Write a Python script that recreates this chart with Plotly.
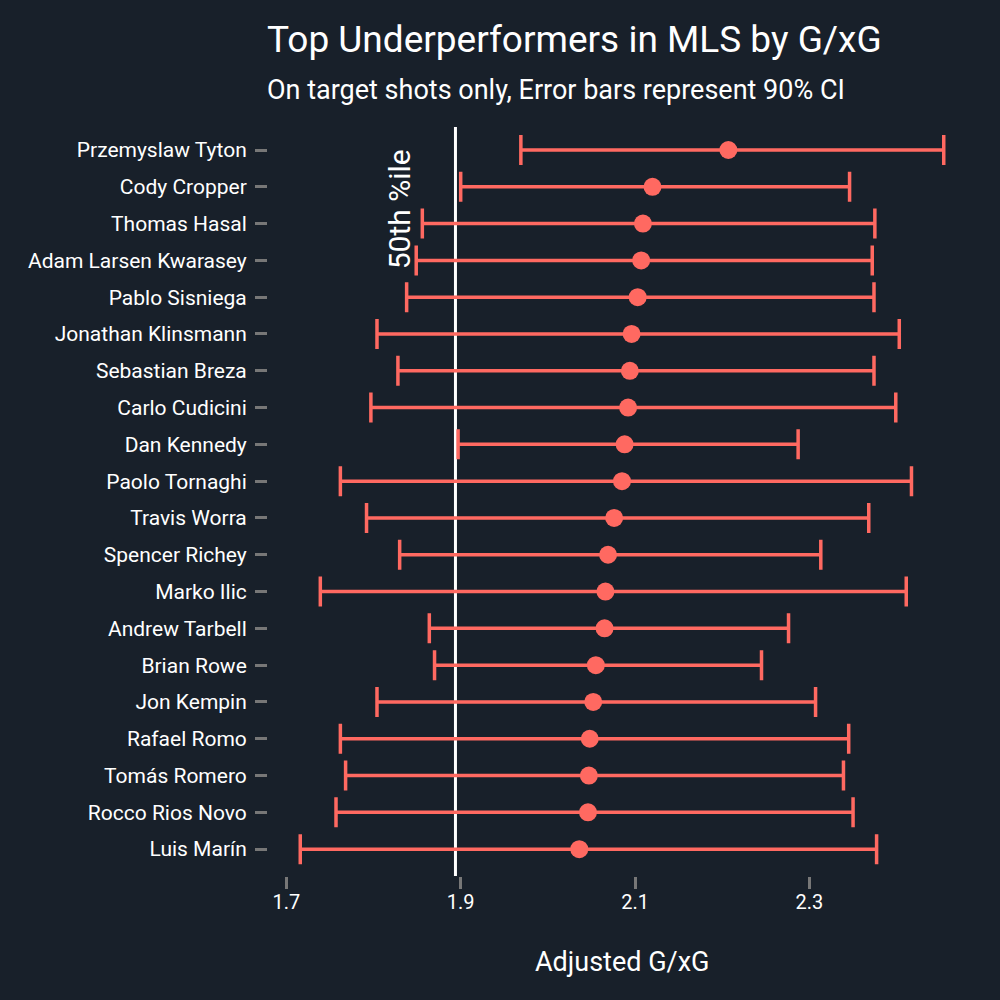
import plotly.graph_objects as go

players = ["Przemyslaw Tyton", "Cody Cropper", "Thomas Hasal", "Adam Larsen Kwarasey",
           "Pablo Sisniega", "Jonathan Klinsmann", "Sebastian Breza", "Carlo Cudicini",
           "Dan Kennedy", "Paolo Tornaghi", "Travis Worra", "Spencer Richey", "Marko Ilic",
           "Andrew Tarbell", "Brian Rowe", "Jon Kempin", "Rafael Romo", "Tomás Romero",
           "Rocco Rios Novo", "Luis Marín"]
estimate = [2.207, 2.120, 2.109, 2.107, 2.103, 2.096, 2.094, 2.092, 2.088, 2.085,
            2.076, 2.069, 2.066, 2.065, 2.055, 2.052, 2.048, 2.047, 2.046, 2.036]
lower = [1.969, 1.900, 1.856, 1.849, 1.838, 1.804, 1.828, 1.797, 1.897, 1.762,
         1.792, 1.830, 1.739, 1.864, 1.870, 1.804, 1.762, 1.768, 1.757, 1.716]
upper = [2.454, 2.346, 2.375, 2.372, 2.374, 2.403, 2.374, 2.399, 2.287, 2.417,
         2.368, 2.313, 2.411, 2.276, 2.245, 2.307, 2.345, 2.339, 2.350, 2.377]
median_line = 1.894
x_ticks = [1.7, 1.9, 2.1, 2.3]

BG = "#18202a"
RED = "#ff6961"
FONT = "Roboto"

ypos = list(range(len(players)))
PH = 749.0  # plot area height in px (127 -> 876)

fig = go.Figure()
fig.add_trace(go.Scatter(
    x=estimate, y=ypos, mode="markers",
    marker=dict(size=18, color=RED),
    error_x=dict(type="data", symmetric=False,
                 array=[u - e for u, e in zip(upper, estimate)],
                 arrayminus=[e - l for e, l in zip(estimate, lower)],
                 color=RED, thickness=3.5, width=15),
    showlegend=False, hoverinfo="skip"))

fig.add_shape(type="line", xref="x", yref="paper", x0=median_line, x1=median_line,
              y0=0, y1=1, line=dict(color="white", width=3), layer="below")

fig.add_annotation(x=1.830, y=1.62, xref="x", yref="y", text="50th %ile",
                   textangle=-90, showarrow=False,
                   font=dict(family=FONT, size=30, color="white"))

fig.add_annotation(x=0, xref="paper", xanchor="left", xshift=-3,
                   y=(876 - 40) / PH, yref="paper",
                   yanchor="middle", text="Top Underperformers in MLS by G/xG",
                   showarrow=False, font=dict(family=FONT, size=37, color="white"))
fig.add_annotation(x=0, xref="paper", xanchor="left", xshift=-3,
                   y=(876 - 90) / PH, yref="paper",
                   yanchor="middle",
                   text="On target shots only, Error bars represent 90% CI",
                   showarrow=False, font=dict(family=FONT, size=27, color="white"))
fig.add_annotation(x=0.5, xref="paper", xanchor="center", y=(876 - 962) / PH, yref="paper",
                   yanchor="middle", text="Adjusted G/xG",
                   showarrow=False, font=dict(family=FONT, size=27, color="white"))

fig.update_layout(
    width=1000, height=1000,
    paper_bgcolor=BG, plot_bgcolor=BG,
    margin=dict(l=268, r=24, t=127, b=124),
    font=dict(family=FONT, color="white"),
    xaxis=dict(range=[1.679, 2.491], tickvals=x_ticks, ticktext=[str(v) for v in x_ticks],
               showgrid=False, zeroline=False, showline=False,
               ticks="outside", ticklen=12, tickwidth=3, tickcolor="#777777",
               tickfont=dict(family=FONT, size=20, color="white"),
               ticklabelstandoff=-4),
    yaxis=dict(range=[19.73, -0.625], tickvals=ypos, ticktext=players,
               showgrid=False, zeroline=False, showline=False,
               ticks="outside", ticklen=12, tickwidth=3, tickcolor="#777777",
               tickfont=dict(family=FONT, size=21, color="white"),
               ticklabelstandoff=4),
)

fig.write_html("out.html", config={"displayModeBar": False},
               post_script="document.body.style.margin='0';")
